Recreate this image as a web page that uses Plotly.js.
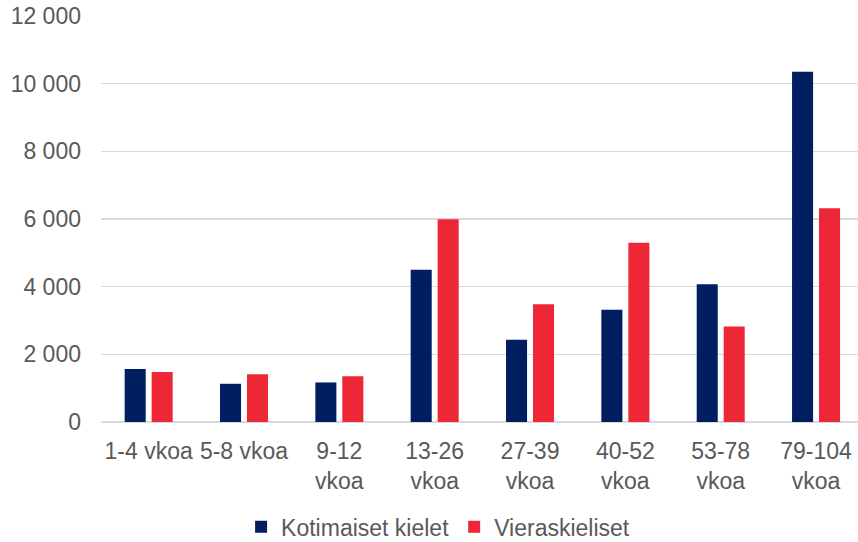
<!DOCTYPE html>
<html>
<head>
<meta charset="utf-8">
<script src="https://cdn.plot.ly/plotly-3.0.1.min.js"></script>
<style>html,body{margin:0;padding:0;background:#fff;}#chart{width:858px;height:542px;}</style>
</head>
<body>
<div id="chart"></div>
<script>
const categories = ["1-4 vkoa", "5-8 vkoa", "9-12<br>vkoa", "13-26<br>vkoa", "27-39<br>vkoa", "40-52<br>vkoa", "53-78<br>vkoa", "79-104<br>vkoa"];
const kotimaiset = [1570, 1130, 1170, 4500, 2430, 3320, 4070, 10350];
const vieraskieliset = [1480, 1410, 1350, 5990, 3480, 5300, 2820, 6320];
const yTicks = [0, 2000, 4000, 6000, 8000, 10000, 12000];

const font = {family: "Liberation Sans, Arial, sans-serif", size: 23, color: "#595959"};

const traces = [
  {type: "bar", name: "Kotimaiset kielet", x: categories, y: kotimaiset, marker: {color: "#001e60"}},
  {type: "bar", name: "Vieraskieliset", x: categories, y: vieraskieliset, marker: {color: "#ee2737"}}
];

const layout = {
  width: 858, height: 542,
  margin: {l: 101, r: 0, t: 16, b: 120},
  paper_bgcolor: "#fff", plot_bgcolor: "#fff",
  font: font,
  separators: ", ",
  barmode: "group",
  bargap: 0.434,
  bargroupgap: 0.22,
  showlegend: true,
  legend: {orientation: "h", xref: "container", yref: "container", x: 0.281, xanchor: "left", y: 0.028, yanchor: "middle",
           font: font, itemwidth: 30, traceorder: "normal", bgcolor: "rgba(0,0,0,0)"},
  xaxis: {type: "category", range: [-0.5, 7.44], showgrid: false, ticks: "", tickfont: font, automargin: false, ticklabelstandoff: 13},
  yaxis: {range: [0, 12000], tickvals: yTicks, tickformat: ",d", showgrid: true, gridcolor: "#d9d9d9", gridwidth: 1.5,
          zeroline: true, zerolinecolor: "#d9d9d9", zerolinewidth: 2, ticks: "", tickfont: font, ticklabelstandoff: 19, automargin: false}
};

Plotly.newPlot("chart", traces, layout, {displayModeBar: false, staticPlot: true});
</script>
</body>
</html>
